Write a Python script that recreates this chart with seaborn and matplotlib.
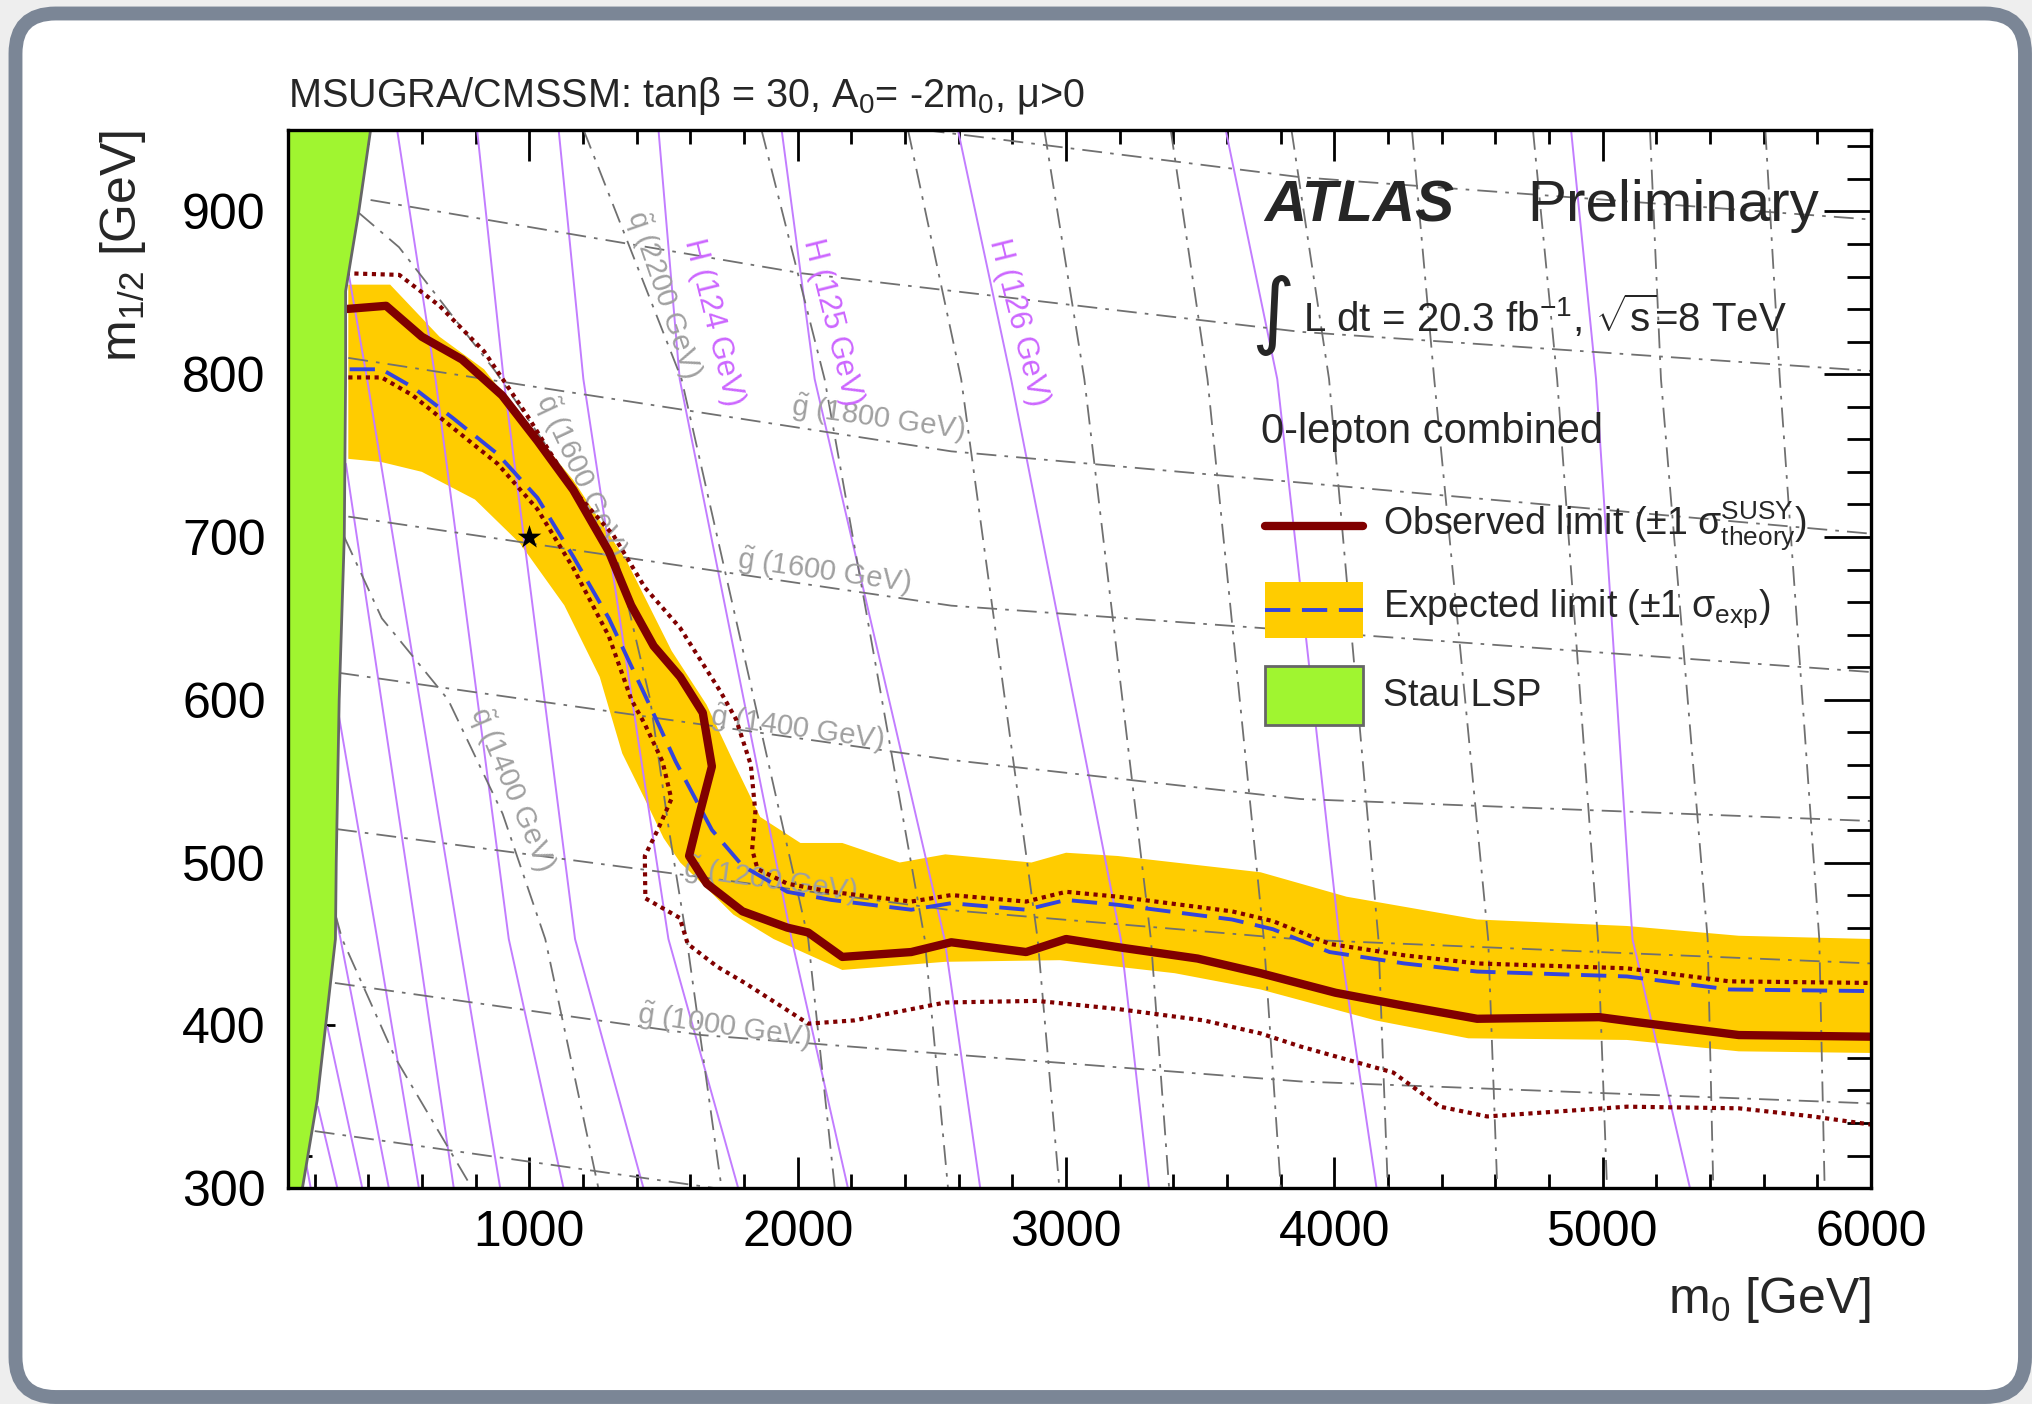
import numpy as np
import matplotlib
matplotlib.use("Agg")
import matplotlib.pyplot as plt
import seaborn as sns
from matplotlib.patches import FancyBboxPatch, Rectangle
from matplotlib.ticker import MultipleLocator
from matplotlib.transforms import IdentityTransform

# ---------------- data (m0 [GeV], m1/2 [GeV]) ----------------
obs_m0 = [315, 466, 599, 749, 898, 1030, 1163, 1296, 1379, 1463, 1562, 1646, 1680, 1628, 1595,
          1661, 1794, 1961, 2039, 2166, 2423, 2572, 2851, 3000, 3193, 3490, 3725, 4004, 4260,
          4532, 4987, 5124, 5507, 6000]
obs_m12 = [840, 842, 823, 809, 787, 759, 729, 691, 658, 633, 614, 592, 559, 526, 504,
           487, 470, 460, 457, 442, 445, 451, 445, 453, 448, 441, 432, 420, 412,
           404, 405, 402, 394, 393]

exp_m0 = [330, 449, 565, 715, 881, 1030, 1163, 1296, 1430, 1545, 1680, 1794, 1961, 2125, 2423,
          2572, 2851, 3000, 3193, 3618, 3771, 3982, 4260, 4532, 5090, 5472, 6000]
exp_m12 = [803, 803, 792, 773, 751, 724, 688, 650, 603, 562, 520, 498, 482, 477, 471,
           475, 471, 477, 474, 465, 459, 445, 438, 433, 430, 422, 421]

band_up_m0 = [325, 481, 665, 831, 998, 1163, 1363, 1530, 1660, 1760, 1860, 2010, 2166, 2380, 2550,
              2871, 3000, 3193, 3725, 4045, 4532, 5090, 5507, 6000]
band_up_m12 = [855, 855, 823, 803, 768, 735, 685, 630, 597, 562, 528, 512, 512, 500, 505,
               500, 506, 504, 494, 479, 465, 461, 455, 453]
band_lo_m0 = [325, 449, 599, 797, 965, 1130, 1262, 1346, 1430, 1500, 1562, 1650, 1760, 1910, 2166,
              2550, 2977, 3405, 3725, 4153, 4499, 5090, 5507, 6000]
band_lo_m12 = [748, 746, 740, 723, 696, 658, 614, 567, 539, 515, 500, 486, 468, 453, 434,
               439, 440, 432, 422, 403, 392, 391, 384, 383]

obs_up_m0 = [315, 515, 665, 831, 998, 1163, 1313, 1430, 1562, 1712, 1770, 1825, 1842, 1830, 1850,
             1961, 2125, 2423, 2572, 2851, 3000, 3193, 3618, 3771, 3982, 4260, 4532, 5090, 5472, 6000]
obs_up_m12 = [862, 861, 842, 814, 773, 729, 701, 669, 644, 605, 588, 560, 531, 508, 496,
              487, 482, 476, 480, 476, 482, 479, 470, 464, 450, 443, 438, 435, 427, 426]

obs_dn_m0 = [325, 449, 565, 715, 881, 1030, 1163, 1296, 1380, 1430, 1496, 1529, 1478, 1430, 1432,
             1560, 1590, 1700, 1803, 2039, 2210, 2550, 2892, 3193, 3513, 3725, 3873, 4045, 4219,
             4394, 4569, 5090, 5507, 5783, 6000]
obs_dn_m12 = [798, 798, 787, 767, 745, 717, 681, 639, 600, 585, 562, 539, 520, 504, 478,
              466, 450, 436, 426, 401, 403, 414, 415, 410, 403, 395, 387, 379, 371,
              350, 344, 350, 349, 344, 339]

stau_m0 = [408, 365, 315, 315, 310, 291, 280, 277, 240, 209, 154]
stau_m12 = [950, 901, 851, 800, 700, 600, 500, 453, 399, 354, 300]

# Higgs-mass contours (violet)
higgs_m0 = [[327, 395, 737, 891], [507, 650, 923, 1127], [805, 904, 1170, 1425],
            [1109, 1201, 1518, 1778], [1481, 1560, 1977, 2187], [1940, 2063, 2547, 2680],
            [2597, 2795, 3204, 3309], [3595, 3787, 4019, 4157], [4882, 4975, 5111, 5325],
            [316, 582, 718], [290, 433, 588], [277, 296, 476], [247, 377], [212, 284], [168, 185]]
higgs_m12 = [[861, 797, 453, 300], [950, 797, 453, 300], [950, 797, 453, 300],
             [950, 797, 453, 300], [950, 797, 453, 300], [950, 797, 453, 300],
             [950, 797, 453, 300], [950, 797, 453, 300], [950, 797, 453, 300],
             [745, 453, 300], [590, 453, 300], [468, 453, 300], [399, 300], [350, 300], [315, 300]]

# squark-mass contours (grey, near vertical)
squark_m0 = [[5606, 5660, 5807, 5827], [5176, 5217, 5391, 5412], [4740, 4830, 4982, 5016],
             [4289, 4372, 4573, 4607], [3840, 3980, 4164, 4199], [3390, 3527, 3737, 3800],
             [2919, 3068, 3316, 3384], [2411, 2609, 2894, 2975], [1865, 2100, 2473, 2560],
             [1202, 1567, 2039, 2138],
             [365, 514, 872, 1150, 1329, 1450, 1520, 1586, 1716],
             [310, 450, 697, 900, 1059, 1257], [277, 302, 500, 786]]
squark_m12 = [[950, 797, 453, 300]] * 10 + [[899, 878, 802, 735, 685, 600, 520, 453, 300],
                                            [700, 650, 600, 530, 453, 300], [468, 453, 380, 300]]

# gluino-mass contours (grey, near horizontal)
gluino_m0 = [[2473, 3874, 6000], [408, 2014, 3874, 6000], [325, 2572, 6000], [325, 2572, 6000],
             [291, 2572, 3874, 6000], [283, 2572, 3874, 6000], [275, 1642, 3874, 6000], [200, 1690]]
gluino_m12 = [[950, 921, 895], [907, 862, 826, 802], [810, 752.6, 702], [712.5, 657.8, 617],
              [616.5, 563, 539, 525.5], [520.5, 470.7, 452.7, 438], [426, 394, 365.5, 352], [335, 300]]

gluino_labels = ["1800", "1600", "1400", "1200", "1000"]
gluino_lab_m0 = [2300, 2098, 1998, 1895, 1725]
gluino_lab_m12 = [773, 679, 582, 489, 399]
squark_labels = ["2200", "1600", "1400"]
squark_lab_m0 = [1499, 1188, 935]
squark_lab_m12 = [849, 738, 545]
squark_lab_rot = [-71, -65, -67]
higgs_labels = ["124", "125", "126"]
higgs_lab_m0 = [1685, 2130, 2820]
higgs_lab_m12 = [832, 832, 832]

star_m0 = [1000]
star_m12 = [700]

# ---------------- style ----------------
sns.set_theme(style="white")
plt.rcParams['font.family'] = ['Liberation Sans', 'DejaVu Sans']
plt.rcParams['mathtext.fontset'] = 'custom'
plt.rcParams['mathtext.rm'] = 'Liberation Sans'
plt.rcParams['mathtext.it'] = 'Liberation Sans:italic'
plt.rcParams['mathtext.bf'] = 'Liberation Sans:bold'

C_OBS = '#800000'
C_BAND = '#ffcc00'
C_EXP = '#3344dd'
C_STAU = '#a0f530'
C_HIGGS = '#c27dff'
C_HIGGS_TXT = '#cc66ff'
C_GREY = '#707070'
C_GREY_TXT = '#a0a0a0'

fig = plt.figure(figsize=(20.32, 14.04), dpi=100)
fig.patch.set_facecolor('#eeeeee')
frame = FancyBboxPatch((15.5, 7), 2025 - 15.5, 1390.5 - 7,
                       boxstyle="round,pad=0,rounding_size=40",
                       transform=IdentityTransform(), facecolor='white',
                       edgecolor='#7b8696', linewidth=10, zorder=-10)
fig.add_artist(frame)

ax = fig.add_axes([0.1417, 0.1538, 0.7791, 0.7536])
ax.set_facecolor('white')
ax.set_xlim(100, 6000)
ax.set_ylim(300, 950)

# band
band_x = np.r_[band_up_m0, band_lo_m0[::-1]]
band_y = np.r_[band_up_m12, band_lo_m12[::-1]]
ax.fill(band_x, band_y, color=C_BAND, lw=0, zorder=1)

dashdot = (0, (11, 4.5, 2, 4.5))
for xs, ys in zip(higgs_m0, higgs_m12):
    ax.plot(xs, ys, color=C_HIGGS, lw=1.4, zorder=2)
for xs, ys in zip(squark_m0, squark_m12):
    ax.plot(xs, ys, color=C_GREY, lw=1.3, linestyle=dashdot, zorder=2)
for xs, ys in zip(gluino_m0, gluino_m12):
    ax.plot(xs, ys, color=C_GREY, lw=1.3, linestyle=dashdot, zorder=2)

for lab, x, y in zip(gluino_labels, gluino_lab_m0, gluino_lab_m12):
    ax.text(x, y, r"$\tilde{\rm g}$ (" + lab + " GeV)", color=C_GREY_TXT, fontsize=21,
            rotation=-8, ha='center', va='center', zorder=2.5, rotation_mode='anchor')
for lab, x, y, r in zip(squark_labels, squark_lab_m0, squark_lab_m12, squark_lab_rot):
    ax.text(x, y, r"$\tilde{\rm q}$ (" + lab + " GeV)", color=C_GREY_TXT, fontsize=21,
            rotation=r, ha='center', va='center', zorder=2.5, rotation_mode='anchor')
for lab, x, y in zip(higgs_labels, higgs_lab_m0, higgs_lab_m12):
    ax.text(x, y, "H (" + lab + " GeV)", color=C_HIGGS_TXT, fontsize=22,
            rotation=-76, ha='center', va='center', zorder=2.5, rotation_mode='anchor')

# limits
sns.lineplot(x=obs_up_m0, y=obs_up_m12, sort=False, estimator=None, color=C_OBS, lw=3.0,
             linestyle=(0, (1, 1.1)), ax=ax, zorder=3, legend=False)
sns.lineplot(x=obs_dn_m0, y=obs_dn_m12, sort=False, estimator=None, color=C_OBS, lw=3.0,
             linestyle=(0, (1, 1.1)), ax=ax, zorder=3, legend=False)
sns.lineplot(x=exp_m0, y=exp_m12, sort=False, estimator=None, color=C_EXP, lw=2.8,
             linestyle=(0, (6.5, 3)), ax=ax, zorder=3.5, legend=False)
sns.lineplot(x=obs_m0, y=obs_m12, sort=False, estimator=None, color=C_OBS, lw=6.0,
             ax=ax, zorder=4, legend=False)

sns.scatterplot(x=star_m0, y=star_m12, marker='*', s=320, color='black', linewidth=0,
                ax=ax, zorder=6, legend=False)

# stau LSP region
ax.fill_betweenx(stau_m12, 100, stau_m0, color=C_STAU, lw=0, zorder=5)
ax.plot(stau_m0, stau_m12, color='#666666', lw=2, zorder=5.1)

# axes styling
for s in ax.spines.values():
    s.set_linewidth(2.4)
    s.set_color('black')
    s.set_zorder(10)
ax.xaxis.set_major_locator(MultipleLocator(1000))
ax.xaxis.set_minor_locator(MultipleLocator(200))
ax.yaxis.set_major_locator(MultipleLocator(100))
ax.yaxis.set_minor_locator(MultipleLocator(20))
ax.tick_params(which='both', direction='in', top=True, right=True, bottom=True, left=True,
               width=2.0, color='black', labelsize=36, labelcolor='black')
ax.tick_params(axis='y', which='major', length=34, pad=16)
ax.tick_params(axis='y', which='minor', length=17)
ax.tick_params(axis='x', which='major', length=22, pad=16)
ax.tick_params(axis='x', which='minor', length=10)
ax.grid(False)
ax.set_xlabel("")
ax.set_ylabel("")

ax.text(1.0, -0.118, r"m$_{0}$ [GeV]", transform=ax.transAxes, ha='right', va='baseline',
        fontsize=36)
ax.text(-0.104, 1.0, r"m$_{1/2}$ [GeV]", transform=ax.transAxes, ha='center', va='top',
        rotation=90, fontsize=36)
ax.text(0.0, 1.022, r"MSUGRA/CMSSM: tanβ = 30, A$_{0}$= -2m$_{0}$, μ>0",
        transform=ax.transAxes, ha='left', va='baseline', fontsize=28.5)

# annotations
ax.text(3740, 894, "ATLAS", fontsize=42, fontweight='bold', fontstyle='italic',
        ha='left', va='baseline', zorder=7)
ax.text(4718, 894, "Preliminary", fontsize=42, ha='left', va='baseline', zorder=7)
ax.text(3770, 836, "\u222b", fontsize=60, family=['DejaVu Sans'], ha='center', va='center', zorder=7)
ax.text(3883, 826, r"L dt = 20.3 fb$^{-1}$, $\sqrt{\rm s}$=8 TeV", fontsize=29,
        ha='left', va='baseline', zorder=7)
ax.text(3725, 758, "0-lepton combined", fontsize=30, ha='left', va='baseline', zorder=7)

# legend
ax.plot([3740, 4108], [706.7, 706.7], color=C_OBS, lw=6.0, zorder=7)
ax.text(4182, 706.7, r"Observed limit (±1 σ$^{\rm SUSY}_{\rm theory}$)", fontsize=27,
        ha='left', va='center', zorder=7)
ax.add_patch(Rectangle((3740, 638), 368, 34.5, facecolor=C_BAND, edgecolor='none', zorder=7))
ax.plot([3740, 4108], [655.3, 655.3], color=C_EXP, lw=2.8, linestyle=(0, (6.5, 3)), zorder=7.5)
ax.text(4182, 656, r"Expected limit (±1 σ$_{\rm exp}$)", fontsize=27,
        ha='left', va='center', zorder=7)
ax.add_patch(Rectangle((3740, 584.5), 368, 36.3, facecolor=C_STAU, edgecolor='#666666',
                       lw=2, zorder=7))
ax.text(4182, 602.3, "Stau LSP", fontsize=27, ha='left', va='center', zorder=7)

fig.savefig("out.png", dpi=100, facecolor=fig.get_facecolor())
